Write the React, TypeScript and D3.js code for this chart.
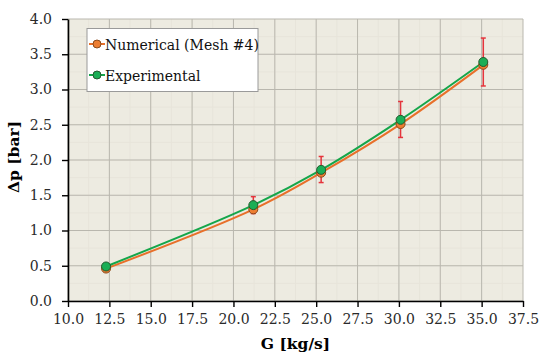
import React, { useEffect, useRef } from "react";
import * as d3 from "d3";

// values
const flowRates = [12.3, 21.2, 25.3, 30.1, 35.1];
const numerical = [0.46, 1.3, 1.82, 2.51, 3.35];
const experimental = [0.49, 1.36, 1.86, 2.57, 3.39];
const errLow = [0.47, 1.24, 1.68, 2.32, 3.05];
const errHigh = [0.51, 1.48, 2.05, 2.83, 3.73];

const xTicks = [10, 12.5, 15, 17.5, 20, 22.5, 25, 27.5, 30, 32.5, 35, 37.5];
const yTicks = [0, 0.5, 1, 1.5, 2, 2.5, 3, 3.5, 4];

const seriesNames = ["Numerical (Mesh #4)", "Experimental"];

const App = () => {
  const ref = useRef<SVGSVGElement>(null);

  useEffect(() => {
    const svg = d3.select(ref.current);
    svg.selectAll("*").remove();

    const left = 68, right = 523, top = 19, bottom = 301;
    const font = "DejaVu Serif";

    const x = d3.scaleLinear().domain([10, 37.5]).range([left, right]);
    const y = d3.scaleLinear().domain([0, 4]).range([bottom, top]);

    // plot background
    svg.append("rect")
      .attr("x", left).attr("y", top)
      .attr("width", right - left).attr("height", bottom - top)
      .attr("fill", "#edebe1");

    // minor grid
    const g = svg.append("g");
    d3.range(10, 37.5, 1.25).forEach((v) => {
      g.append("line").attr("x1", x(v)).attr("x2", x(v)).attr("y1", top).attr("y2", bottom)
        .attr("stroke", "#e7e4da").attr("stroke-width", 1);
    });
    d3.range(0, 4, 0.25).forEach((v) => {
      g.append("line").attr("y1", y(v)).attr("y2", y(v)).attr("x1", left).attr("x2", right)
        .attr("stroke", "#e7e4da").attr("stroke-width", 1);
    });
    // major grid
    xTicks.forEach((v) => {
      g.append("line").attr("x1", x(v)).attr("x2", x(v)).attr("y1", top).attr("y2", bottom)
        .attr("stroke", "#b9b7ae").attr("stroke-width", 1);
    });
    yTicks.forEach((v) => {
      g.append("line").attr("y1", y(v)).attr("y2", y(v)).attr("x1", left).attr("x2", right)
        .attr("stroke", "#b9b7ae").attr("stroke-width", 1);
    });

    // axes
    const xAxis = svg.append("g")
      .attr("transform", `translate(0,${bottom})`)
      .call(d3.axisBottom(x).tickValues(xTicks).tickFormat(d3.format(".1f")).tickSize(6).tickSizeOuter(0));
    const yAxis = svg.append("g")
      .attr("transform", `translate(${left},0)`)
      .call(d3.axisLeft(y).tickValues(yTicks).tickFormat(d3.format(".1f")).tickSize(6).tickSizeOuter(0));
    [xAxis, yAxis].forEach((a) => {
      a.select(".domain").attr("stroke", "#000").attr("stroke-width", 1.6);
      a.selectAll(".tick line").attr("stroke", "#000").attr("stroke-width", 1.4);
      a.selectAll("text").attr("font-family", font).attr("font-size", 14).attr("fill", "#2a2a2a");
    });
    xAxis.selectAll("text").attr("dy", "0.71em").attr("y", 13);
    yAxis.selectAll("text").attr("x", -16);

    // axis titles
    svg.append("text")
      .attr("x", (left + right) / 2).attr("y", 349)
      .attr("text-anchor", "middle")
      .attr("font-family", font).attr("font-weight", "bold").attr("font-size", 15.5)
      .text("G [kg/s]");
    svg.append("text")
      .attr("transform", `translate(19,${(top + bottom) / 2 - 3}) rotate(-90)`)
      .attr("text-anchor", "middle")
      .attr("font-family", font).attr("font-weight", "bold").attr("font-size", 15.5)
      .text("Δp [bar]");

    const line = d3.line<number>()
      .x((_, i) => x(flowRates[i]))
      .y((d) => y(d))
      .curve(d3.curveCatmullRom.alpha(0.5));

    const series = [
      { values: numerical, color: "#e8702a", fill: "#ed7d31", edge: "#8a4a1c" },
      { values: experimental, color: "#15a64a", fill: "#1aae55", edge: "#245a2e" },
    ];

    // error bars on experimental data
    const eb = svg.append("g").attr("stroke", "#e5343c").attr("stroke-width", 1.5);
    flowRates.forEach((f, i) => {
      const cx = x(f);
      eb.append("line").attr("x1", cx).attr("x2", cx).attr("y1", y(errLow[i])).attr("y2", y(errHigh[i]));
      eb.append("line").attr("x1", cx - 2.5).attr("x2", cx + 2.5).attr("y1", y(errLow[i])).attr("y2", y(errLow[i]));
      eb.append("line").attr("x1", cx - 2.5).attr("x2", cx + 2.5).attr("y1", y(errHigh[i])).attr("y2", y(errHigh[i]));
    });

    series.forEach((s) => {
      svg.append("path")
        .datum(s.values)
        .attr("d", line)
        .attr("fill", "none")
        .attr("stroke", s.color)
        .attr("stroke-width", 2);
    });
    series.forEach((s) => {
      svg.append("g").selectAll("circle")
        .data(s.values)
        .enter()
        .append("circle")
        .attr("cx", (_, i) => x(flowRates[i]))
        .attr("cy", (d) => y(d))
        .attr("r", 4.5)
        .attr("fill", s.fill)
        .attr("stroke", s.edge)
        .attr("stroke-width", 1);
    });

    // legend
    const lg = svg.append("g");
    lg.append("rect")
      .attr("x", 87).attr("y", 28.5).attr("width", 171).attr("height", 63)
      .attr("fill", "#fff").attr("stroke", "#9a9a9a").attr("stroke-width", 1);
    seriesNames.forEach((name, i) => {
      const ly = 44 + i * 31;
      const s = series[i];
      lg.append("line").attr("x1", 89).attr("x2", 105).attr("y1", ly).attr("y2", ly)
        .attr("stroke", s.color).attr("stroke-width", 2);
      lg.append("circle").attr("cx", 97).attr("cy", ly).attr("r", 4)
        .attr("fill", s.fill).attr("stroke", s.edge).attr("stroke-width", 1);
      lg.append("text").attr("x", 105).attr("y", ly + 5.5)
        .attr("font-family", font).attr("font-size", 14).attr("fill", "#111")
        .text(name);
    });
  }, []);

  return (
    <svg ref={ref} width={550} height={359}
      style={{ position: "absolute", left: 0, top: 0, background: "#fff" }} />
  );
};

export default App;
